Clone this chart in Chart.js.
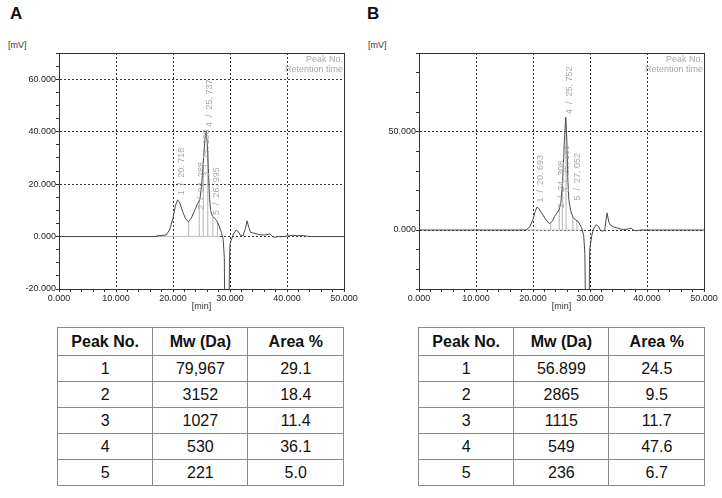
<!DOCTYPE html>
<html>
<head>
<meta charset="utf-8">
<script src="https://cdn.jsdelivr.net/npm/chart.js@4.4.1/dist/chart.umd.min.js"></script>
<style>
  body { margin: 0; background: #fff; font-family: "Liberation Sans", Arial, sans-serif; }
  #page { position: relative; width: 722px; height: 498px; overflow: hidden; }
  .panel { position: absolute; font-weight: bold; font-size: 17px; line-height: 1; color: #111; }
  .unit { position: absolute; font-size: 9px; line-height: 1; color: #333; }
  canvas { position: absolute; }
  table { position: absolute; border-collapse: collapse; table-layout: fixed; font-size: 16px; color: #111; }
  td, th { border: 1px solid #8a8a8a; text-align: center; padding: 0; }
  th { height: 27px; font-weight: bold; }
  td { height: 25px; }
</style>
</head>
<body>
<div id="page">
  <div class="panel" style="left:10px; top:5px;">A</div>
  <div class="panel" style="left:367px; top:5px;">B</div>
  <div class="unit" style="left:8px; top:41px;">[mV]</div>
  <div class="unit" style="left:368px; top:41px;">[mV]</div>
  <canvas id="chartA" width="360" height="272" style="left:0; top:40px;"></canvas>
  <canvas id="chartB" width="360" height="272" style="left:360px; top:40px;"></canvas>
  <table id="tableA" style="left:57px; top:327px; width:287px;"></table>
  <table id="tableB" style="left:418px; top:327px; width:287px;"></table>
</div>
<script>
// chromatogram A (time in min, signal in mV)
const timeA = [0, 17.0, 17.1, 18.8, 19.4, 20.0, 20.4, 20.8, 21.2, 21.7, 22.2, 22.7, 23.2, 23.7, 24.3, 24.7, 25.0, 25.3, 25.6, 25.8,
  26.0, 26.2, 26.4, 26.6, 26.9, 27.3, 27.7, 28.1, 28.5, 28.8, 29.0, 29.15, 29.75, 29.9, 30.0, 30.2, 30.6, 31.1, 31.5, 31.8,
  32.3, 32.7, 33.0, 33.3, 33.6, 34.2, 35.0, 35.8, 36.5, 37.0, 37.4, 37.8, 38.4, 39.0, 40.0, 41.0, 41.8, 42.5, 43.4, 44.0, 50];
const signalA = [0, 0, 0.25, 0.6, 2.5, 7, 11.5, 14, 12.8, 9.5, 6.8, 5.6, 7.0, 9.5, 12.5, 14, 19, 28, 37, 40.3,
  36, 26, 15, 10, 7.8, 7, 6, 4, 1.5, -1, -8, -45, -45, -10, -3, -1.5, 1, 2.5, 1.8, 0.5,
  0.4, 3, 6.0, 3.5, 1.6, 1.3, 0.8, 0.6, 0.7, 1.0, 0.1, -0.3, 0, -0.1, 0.2, 0.5, 0.3, 0.4, 0.2, 0, 0];

// chromatogram B
const timeB = [0, 18.6, 18.9, 19.4, 20.0, 20.4, 20.7, 21.0, 21.5, 22.2, 22.9, 23.4, 23.8, 24.3, 24.6, 24.9, 25.2, 25.5, 25.75, 25.95,
  26.1, 26.3, 26.6, 27.0, 27.5, 27.9, 28.3, 28.6, 28.9, 29.1, 29.25, 29.8, 29.95, 30.3, 30.6, 31.1, 31.5, 31.8, 32.3, 32.6,
  32.8, 33.0, 33.3, 33.6, 34.2, 34.8, 35.8, 36.5, 37.2, 37.6, 38.1, 38.8, 39.3, 44.0, 50];
const signalB = [0, 0, 0.3, 1.5, 5.3, 9.5, 11.6, 11.0, 8.7, 5.5, 3.2, 4.5, 7, 9, 10.5, 14, 25, 45, 57.3, 45,
  26, 15, 10, 6.5, 5, 4.4, 2.5, 0.5, -3, -12, -50, -50, -10, -3, 0.5, 2.7, 1.8, 0, -0.7, 0.2,
  5, 8.7, 4, 2.5, 1.5, 1, 0.2, 0.4, 1.0, 0, -0.4, 0, 0, 0, 0];

// integration baseline and drop lines
const baselineA = [17.2, 28.3];
const baselineB = [18.8, 28.4];
const dropTimesA = [22.75, 24.6, 25.3, 26.1, 27.0, 27.8];
const dropHeightsA = [5.6, 13.8, 28, 30, 7.3, 5.5];
const dropTimesB = [23.1, 24.6, 25.15, 25.8, 27.0, 27.7];
const dropHeightsB = [3.5, 10.5, 22, 50, 6.5, 4.7];

// peak labels (rotated text above peaks)
const peakLabelsA = ['1  /  20. 718', '2  /  24. 288', '3  /  25. 198', '4  /  25. 737', '5  /  26. 995'];
const peakTimesA = [20.718, 24.288, 25.198, 25.737, 26.995];
const labelBaseA = [15, 9.5, 22, 41, 7.5];
const peakLabelsB = ['1  /  20. 693', '2  /  24. 308', '3  /  25. 188', '4  /  25. 752', '5  /  27. 052'];
const peakTimesB = [20.693, 24.308, 25.188, 25.752, 27.052];
const labelBaseB = [13, 10, 18, 58, 14];

// axes
const xMajor = [0, 10, 20, 30, 40, 50];
const yMajorA = [-20, 0, 20, 40, 60];
const yMajorB = [0, 50];

// tables
const peakNo = ['1', '2', '3', '4', '5'];
const mwA = ['79,967', '3152', '1027', '530', '221'];
const areaA = ['29.1', '18.4', '11.4', '36.1', '5.0'];
const mwB = ['56.899', '2865', '1115', '549', '236'];
const areaB = ['24.5', '9.5', '11.7', '47.6', '6.7'];

const tickFont = { family: '"Liberation Sans", Arial, sans-serif', size: 9 };
const axisColor = '#333';

function toPoints(xs, ys) {
  return xs.map((x, i) => ({ x: x, y: ys[i] }));
}

function dropPoints(ts, hs) {
  const pts = [];
  ts.forEach((t, i) => {
    pts.push({ x: t, y: 0 }, { x: t, y: hs[i] }, { x: t, y: NaN });
  });
  return pts;
}

const annotate = {
  id: 'annotate',
  afterDatasetsDraw(chart, args, opts) {
    const { ctx, chartArea, scales } = chart;
    ctx.save();
    ctx.fillStyle = '#a8a8a8';
    ctx.font = '9px "Liberation Sans", Arial, sans-serif';
    // top-right legend text
    ctx.textAlign = 'right';
    ctx.textBaseline = 'top';
    ctx.fillText('Peak No.', chartArea.right - 1, chartArea.top + 2);
    ctx.fillText('Retention time', chartArea.right - 1, chartArea.top + 12);
    // rotated peak labels
    opts.labels.forEach((lab, i) => {
      const px = scales.x.getPixelForValue(opts.times[i]) + 4;
      const py = scales.y.getPixelForValue(opts.base[i]) - 2;
      ctx.save();
      ctx.translate(px, py);
      ctx.rotate(-Math.PI / 2);
      ctx.textAlign = 'left';
      ctx.textBaseline = 'middle';
      ctx.fillText(lab, 0, 0);
      ctx.restore();
    });
    ctx.restore();
  },
  afterDraw(chart) {
    const { ctx, chartArea } = chart;
    ctx.save();
    ctx.strokeStyle = axisColor;
    ctx.lineWidth = 1;
    ctx.strokeRect(Math.round(chartArea.left) + 0.5, Math.round(chartArea.top) + 0.5,
      Math.round(chartArea.right - chartArea.left), Math.round(chartArea.bottom - chartArea.top));
    ctx.restore();
  }
};

function makeChart(id, t, s, base, dropT, dropH, yMin, yMax, yStep, yMajor, labels, times, lbase) {
  return new Chart(document.getElementById(id), {
    type: 'line',
    data: {
      datasets: [
        {
          data: toPoints(t, s),
          borderColor: '#4a4a4a',
          borderWidth: 1,
          pointRadius: 0,
          tension: 0,
          order: 1
        },
        {
          data: [{ x: base[0], y: 0 }, { x: base[1], y: 0 }],
          borderColor: '#c4c4c4',
          borderWidth: 1,
          pointRadius: 0,
          order: 2
        },
        {
          data: dropPoints(dropT, dropH),
          borderColor: '#b4b4b4',
          borderWidth: 1,
          pointRadius: 0,
          spanGaps: false,
          order: 3
        }
      ]
    },
    options: {
      responsive: false,
      animation: false,
      devicePixelRatio: 1,
      layout: { padding: { top: 13, right: 16, left: 0, bottom: 0 } },
      plugins: {
        legend: { display: false },
        tooltip: { enabled: false },
        annotate: { labels: labels, times: times, base: lbase }
      },
      scales: {
        x: {
          type: 'linear',
          min: 0,
          max: 50,
          afterFit: (sc) => { sc.height = 23; },
          ticks: {
            stepSize: 2,
            autoSkip: false,
            maxRotation: 0,
            padding: 1,
            color: '#222',
            font: tickFont,
            callback: (v) => xMajor.includes(v) ? v.toFixed(3) : ''
          },
          grid: {
            color: (c) => (c.tick && xMajor.includes(c.tick.value)) ? axisColor : 'rgba(0,0,0,0)',
            tickColor: axisColor,
            tickLength: 3
          },
          border: { color: axisColor, dash: [2, 2] },
          title: { display: true, text: '[min]', color: '#333', font: tickFont, padding: 0 }
        },
        y: {
          min: yMin,
          max: yMax,
          afterFit: (sc) => { sc.width = 59; },
          ticks: {
            stepSize: yStep,
            autoSkip: false,
            padding: 0,
            color: '#222',
            font: tickFont,
            callback: (v) => yMajor.includes(v) ? v.toFixed(3) : ''
          },
          grid: {
            color: (c) => (c.tick && yMajor.includes(c.tick.value)) ? axisColor : 'rgba(0,0,0,0)',
            tickColor: axisColor,
            tickLength: 3
          },
          border: { color: axisColor, dash: [2, 2] }
        }
      }
    },
    plugins: [annotate]
  });
}

makeChart('chartA', timeA, signalA, baselineA, dropTimesA, dropHeightsA, -20, 70, 5, yMajorA,
  peakLabelsA, peakTimesA, labelBaseA);
makeChart('chartB', timeB, signalB, baselineB, dropTimesB, dropHeightsB, -30, 90, 10, yMajorB,
  peakLabelsB, peakTimesB, labelBaseB);

function fillTable(id, mw, area) {
  const table = document.getElementById(id);
  let html = '<colgroup><col style="width:33.3%"><col style="width:33.3%"><col style="width:33.4%"></colgroup>';
  html += '<tr><th>Peak No.</th><th>Mw (Da)</th><th>Area %</th></tr>';
  peakNo.forEach((p, i) => {
    html += '<tr><td>' + p + '</td><td>' + mw[i] + '</td><td>' + area[i] + '</td></tr>';
  });
  table.innerHTML = html;
}
fillTable('tableA', mwA, areaA);
fillTable('tableB', mwB, areaB);
</script>
</body>
</html>
